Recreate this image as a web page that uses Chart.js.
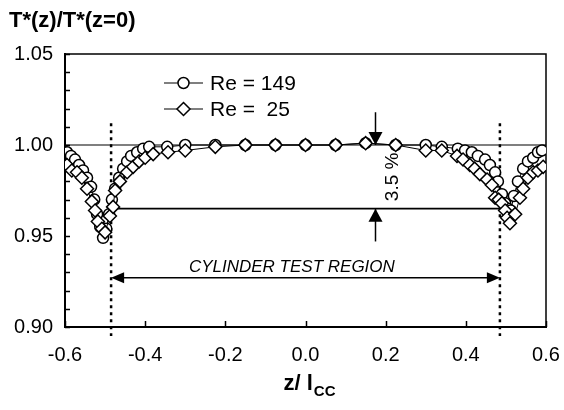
<!DOCTYPE html>
<html>
<head>
<meta charset="utf-8">
<script src="https://cdn.jsdelivr.net/npm/chart.js@4/dist/chart.umd.min.js"></script>
<style>
  html, body { margin: 0; padding: 0; background: #fff; }
  canvas { display: block; }
</style>
</head>
<body>
<canvas id="chart" width="564" height="410"></canvas>
<script>
// Re = 149 (circles)
var zRe149 = [-0.595, -0.585, -0.575, -0.565, -0.555, -0.545, -0.535, -0.527, -0.52, -0.512,
  -0.505, -0.497, -0.49, -0.483, -0.475, -0.465, -0.455, -0.445, -0.435, -0.42,
  -0.405, -0.39, -0.345, -0.30, -0.225, -0.15, -0.075, 0, 0.075, 0.15,
  0.225, 0.30, 0.34, 0.38, 0.398, 0.415, 0.43, 0.448, 0.46, 0.473,
  0.48, 0.49, 0.498, 0.505, 0.512, 0.52, 0.53, 0.543, 0.555, 0.568,
  0.58, 0.59];
var tRe149 = [0.996, 0.994, 0.992, 0.989, 0.986, 0.982, 0.977, 0.970, 0.962, 0.955,
  0.949, 0.954, 0.962, 0.970, 0.976, 0.982, 0.987, 0.991, 0.994, 0.996,
  0.998, 0.999, 0.999, 1.000, 1.000, 1.000, 1.000, 1.000, 1.000, 1.001,
  1.000, 1.000, 0.999, 0.998, 0.997, 0.996, 0.994, 0.992, 0.989, 0.985,
  0.980, 0.973, 0.968, 0.965, 0.964, 0.972, 0.980, 0.987, 0.991, 0.993,
  0.996, 0.997];

// Re = 25 (diamonds)
var zRe25 = [-0.595, -0.583, -0.57, -0.558, -0.545, -0.533, -0.525, -0.518, -0.508, -0.50,
  -0.488, -0.48, -0.475, -0.463, -0.445, -0.43, -0.415, -0.40, -0.38, -0.343,
  -0.30, -0.225, -0.15, -0.075, 0, 0.075, 0.15, 0.225, 0.30,
  0.34, 0.378, 0.393, 0.41, 0.422, 0.435, 0.453, 0.465, 0.473, 0.482,
  0.49, 0.498, 0.503, 0.51, 0.523, 0.535, 0.543, 0.555, 0.568, 0.58,
  0.593];
var tRe25 = [0.989, 0.986, 0.985, 0.982, 0.976, 0.969, 0.964, 0.958, 0.954, 0.952,
  0.961, 0.966, 0.975, 0.980, 0.985, 0.988, 0.991, 0.993, 0.995, 0.996,
  0.997, 0.999, 1.000, 1.000, 1.000, 1.000, 1.001, 1.000, 0.997,
  0.997, 0.994, 0.992, 0.989, 0.987, 0.984, 0.981, 0.978, 0.971, 0.970,
  0.968, 0.964, 0.960, 0.957, 0.962, 0.971, 0.976, 0.982, 0.985, 0.986,
  0.988];

var seriesLabels = ['Re = 149', 'Re =  25'];
var xTicks = [-0.6, -0.4, -0.2, 0.0, 0.2, 0.4, 0.6];
var yTicks = [0.90, 0.95, 1.00, 1.05];

// annotation values (data units)
var regionEdge = 0.485;     // cylinder test region bounds
var dipLevel = 0.965;       // 3.5 % level
var arrowZ = 0.173;
var regionArrowY = 0.927;
var regionLabel = 'CYLINDER TEST REGION';
var dipLabel = '3.5 %';

var FONT = '"Liberation Sans", Arial, sans-serif';

function pts(zs, ts) {
  return zs.map(function (z, i) { return { x: z, y: ts[i] }; });
}

function arrowHead(ctx, x, y, dir, len, half) {
  // tip at (x,y)
  ctx.beginPath();
  ctx.moveTo(x, y);
  if (dir === 'down') { ctx.lineTo(x - half, y - len); ctx.lineTo(x + half, y - len); }
  if (dir === 'up') { ctx.lineTo(x - half, y + len); ctx.lineTo(x + half, y + len); }
  if (dir === 'left') { ctx.lineTo(x + len, y - half); ctx.lineTo(x + len, y + half); }
  if (dir === 'right') { ctx.lineTo(x - len, y - half); ctx.lineTo(x - len, y + half); }
  ctx.closePath();
  ctx.fill();
}

var overlay = {
  id: 'overlay',
  beforeDatasetsDraw: function (chart) {
    var ctx = chart.ctx, a = chart.chartArea, x = chart.scales.x, y = chart.scales.y;
    ctx.save();
    ctx.strokeStyle = '#000';
    ctx.fillStyle = '#000';

    // plot frame
    ctx.lineWidth = 1.5;
    ctx.strokeRect(a.left, a.top, a.right - a.left, a.bottom - a.top);

    // inside minor ticks on y every 0.01
    for (var v = 0.90; v <= 1.0501; v += 0.01) {
      var py = Math.round(y.getPixelForValue(v)) + 0.5;
      ctx.beginPath(); ctx.moveTo(a.left, py); ctx.lineTo(a.left + 5, py); ctx.stroke();
    }
    // inside ticks on x
    xTicks.forEach(function (t) {
      var px = Math.round(x.getPixelForValue(t)) + 0.5;
      ctx.beginPath(); ctx.moveTo(px, a.bottom); ctx.lineTo(px, a.bottom - 6); ctx.stroke();
    });

    // reference line at 1.00
    ctx.lineWidth = 1.2;
    var y1 = y.getPixelForValue(1.0);
    ctx.beginPath(); ctx.moveTo(a.left, y1); ctx.lineTo(a.right, y1); ctx.stroke();

    // 3.5 % level line
    ctx.lineWidth = 1.8;
    var yd = y.getPixelForValue(dipLevel);
    ctx.beginPath();
    ctx.moveTo(x.getPixelForValue(-regionEdge), yd);
    ctx.lineTo(x.getPixelForValue(regionEdge), yd);
    ctx.stroke();

    // dotted region bounds
    ctx.lineWidth = 2.5;
    ctx.setLineDash([3, 4]);
    [-regionEdge, regionEdge].forEach(function (e) {
      var px = x.getPixelForValue(e);
      ctx.beginPath();
      ctx.moveTo(px, y.getPixelForValue(1.012));
      ctx.lineTo(px, a.bottom + 9);
      ctx.stroke();
    });
    ctx.setLineDash([]);
    ctx.restore();
  },
  afterDatasetsDraw: function (chart) {
    var ctx = chart.ctx, x = chart.scales.x, y = chart.scales.y;
    ctx.save();
    ctx.strokeStyle = '#000';
    ctx.fillStyle = '#000';

    // 3.5 % arrows
    var ax = Math.round(x.getPixelForValue(arrowZ)) + 0.5;
    var yTop = y.getPixelForValue(1.0);
    var yLow = y.getPixelForValue(dipLevel);
    ctx.lineWidth = 1.5;
    ctx.beginPath(); ctx.moveTo(ax, y.getPixelForValue(1.018)); ctx.lineTo(ax, yTop); ctx.stroke();
    arrowHead(ctx, ax, yTop, 'down', 13, 7);
    ctx.beginPath(); ctx.moveTo(ax, yLow); ctx.lineTo(ax, y.getPixelForValue(0.947)); ctx.stroke();
    arrowHead(ctx, ax, yLow, 'up', 13, 7);

    // rotated 3.5 % label
    ctx.save();
    ctx.translate(ax + 17, (yTop + yLow) / 2);
    ctx.rotate(-Math.PI / 2);
    ctx.font = '19px ' + FONT;
    ctx.textAlign = 'center';
    ctx.textBaseline = 'middle';
    ctx.fillText(dipLabel, 0, 0);
    ctx.restore();

    // cylinder test region double arrow
    var ry = y.getPixelForValue(regionArrowY);
    var rl = x.getPixelForValue(-regionEdge), rr = x.getPixelForValue(regionEdge);
    ctx.lineWidth = 1.5;
    ctx.beginPath(); ctx.moveTo(rl + 10, ry); ctx.lineTo(rr - 10, ry); ctx.stroke();
    arrowHead(ctx, rl, ry, 'left', 13, 5.5);
    arrowHead(ctx, rr, ry, 'right', 13, 5.5);
    ctx.font = 'italic 17px ' + FONT;
    ctx.textAlign = 'center';
    ctx.textBaseline = 'alphabetic';
    ctx.fillText(regionLabel, x.getPixelForValue(-0.034), ry - 6);

    // legend
    var rows = [83, 109];
    ctx.font = '21px ' + FONT;
    ctx.textAlign = 'left';
    ctx.textBaseline = 'middle';
    rows.forEach(function (ly, i) {
      ctx.lineWidth = 1.2;
      ctx.beginPath(); ctx.moveTo(164, ly); ctx.lineTo(203, ly); ctx.stroke();
      ctx.lineWidth = 1.5;
      ctx.fillStyle = '#fff';
      ctx.beginPath();
      if (i === 0) {
        ctx.arc(183.5, ly, 5.5, 0, Math.PI * 2);
      } else {
        ctx.moveTo(183.5, ly - 6.5); ctx.lineTo(190, ly); ctx.lineTo(183.5, ly + 6.5); ctx.lineTo(177, ly); ctx.closePath();
      }
      ctx.fill(); ctx.stroke();
      ctx.fillStyle = '#000';
      ctx.fillText(seriesLabels[i], 210, ly + 1);
    });
    ctx.restore();
  },
  afterDraw: function (chart) {
    var ctx = chart.ctx;
    ctx.save();
    ctx.fillStyle = '#000';
    ctx.textBaseline = 'alphabetic';
    ctx.textAlign = 'left';
    // y title
    ctx.font = 'bold 22px ' + FONT;
    ctx.fillText('T*(z)/T*(z=0)', 9, 27);
    // x title with subscript
    var main = 'z/ l', sub = 'CC';
    ctx.font = 'bold 22px ' + FONT;
    var w1 = ctx.measureText(main).width;
    ctx.font = 'bold 15px ' + FONT;
    var w2 = ctx.measureText(sub).width;
    var sx = 309 - (w1 + w2) / 2;
    ctx.font = 'bold 22px ' + FONT;
    ctx.fillText(main, sx, 390);
    ctx.font = 'bold 15px ' + FONT;
    ctx.fillText(sub, sx + w1 + 1, 396);
    ctx.restore();
  }
};

new Chart(document.getElementById('chart'), {
  type: 'scatter',
  data: {
    datasets: [
      {
        label: seriesLabels[0],
        data: pts(zRe149, tRe149),
        showLine: true,
        borderColor: '#000',
        borderWidth: 1,
        pointStyle: 'circle',
        pointRadius: 5.5,
        pointBorderWidth: 1.5,
        pointBackgroundColor: '#fff',
        pointBorderColor: '#000',
        order: 1
      },
      {
        label: seriesLabels[1],
        data: pts(zRe25, tRe25),
        showLine: true,
        borderColor: '#000',
        borderWidth: 1,
        pointStyle: 'rectRot',
        pointRadius: 6.5,
        pointBorderWidth: 1.5,
        pointBackgroundColor: '#fff',
        pointBorderColor: '#000',
        order: 0
      }
    ]
  },
  options: {
    responsive: false,
    animation: false,
    layout: { padding: { top: 54, right: 18, left: 0, bottom: 0 } },
    plugins: { legend: { display: false }, tooltip: { enabled: false } },
    scales: {
      x: {
        type: 'linear',
        min: -0.6,
        max: 0.6,
        afterBuildTicks: function (s) { s.ticks = xTicks.map(function (v) { return { value: v }; }); },
        afterFit: function (s) { s.height = 83; s.paddingLeft = 0; s.paddingRight = 0; },
        ticks: {
          color: '#000',
          font: { family: FONT, size: 20 },
          padding: 16,
          maxRotation: 0,
          callback: function (v) { return Math.abs(v) < 1e-9 ? '0.0' : Number(v).toFixed(1); }
        },
        grid: { display: false, drawTicks: false },
        border: { display: true, color: '#000', width: 2 }
      },
      y: {
        min: 0.9,
        max: 1.05,
        afterBuildTicks: function (s) { s.ticks = yTicks.map(function (v) { return { value: v }; }); },
        afterFit: function (s) { s.width = 65; s.paddingTop = 0; s.paddingBottom = 0; },
        ticks: {
          color: '#000',
          font: { family: FONT, size: 20 },
          padding: 12,
          callback: function (v) { return Number(v).toFixed(2); }
        },
        grid: { display: false, drawTicks: false },
        border: { display: true, color: '#000', width: 2 }
      }
    }
  },
  plugins: [overlay]
});
</script>
</body>
</html>
